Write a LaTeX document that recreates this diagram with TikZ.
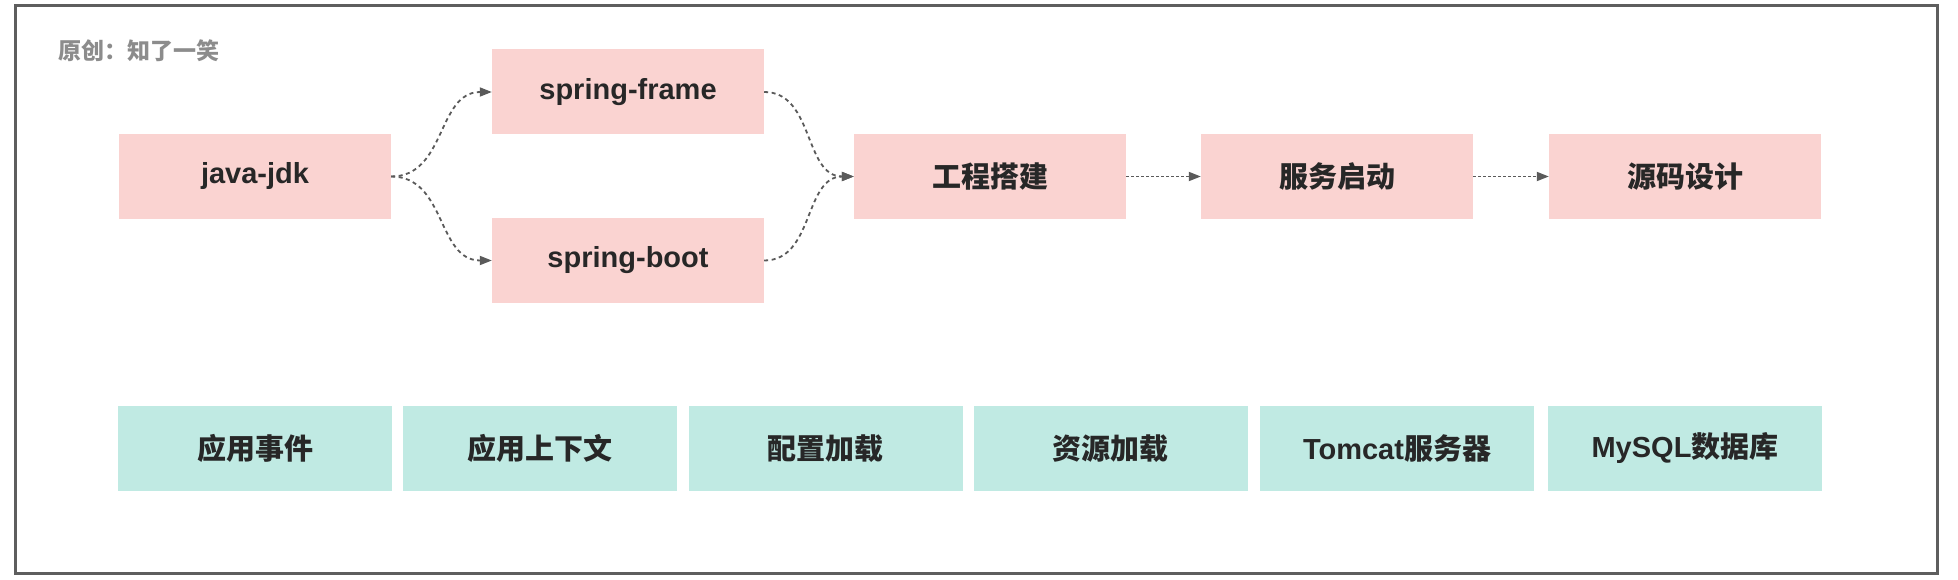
\documentclass[tikz,border=0pt]{standalone}
\usepackage{fontspec}
\setmainfont{Liberation Sans}
\newfontfamily\cjk{Noto Sans CJK SC}
\usetikzlibrary{arrows.meta}
\definecolor{pinkfill}{HTML}{FAD3D1}
\definecolor{tealfill}{HTML}{C0EAE3}
\definecolor{txtcol}{HTML}{272727}
\definecolor{arrcol}{HTML}{5A5A5A}
\definecolor{framecol}{HTML}{5E5E5E}
\definecolor{notecol}{HTML}{8C8C8C}
\newcommand\zh[1]{{\cjk\bfseries #1}}
\tikzset{
  box/.style={minimum width=272pt, minimum height=85pt, inner sep=0pt, text=txtcol,
    font=\fontsize{29}{33}\selectfont\bfseries},
  pinkbox/.style={box, fill=pinkfill},
  tealbox/.style={box, fill=tealfill, minimum width=274pt},
  link/.style={draw=arrcol, line width=1.8pt, dash pattern=on 4pt off 3.5pt,
    -{Triangle[length=12pt,width=9pt]}},
}
\begin{document}
\begin{tikzpicture}[x=1pt,y=-1pt]
\useasboundingbox[fill=white] (0,0) rectangle (1958,580);
\draw[framecol, line width=3pt] (15.5,5.5) rectangle (1937,573.5);
\node[anchor=west, text=notecol, inner sep=0pt, font=\fontsize{23}{27}\selectfont] (credit) at (58,51) {\zh{原创：知了一笑}};
% top row
\node[pinkbox] (jdk) at (255,176.5) {java-jdk};
\node[pinkbox] (sframe) at (628,92) {spring-frame};
\node[pinkbox] (sboot) at (628,260.5) {spring-boot};
\node[pinkbox] (build) at (990,176.5) {\zh{工程搭建}};
\node[pinkbox] (start) at (1337,176.5) {\zh{服务启动}};
\node[pinkbox] (src) at (1685,176.5) {\zh{源码设计}};
% bottom row
\node[tealbox] (ev) at (255,448.5) {\zh{应用事件}};
\node[tealbox] (ctx) at (540,448.5) {\zh{应用上下文}};
\node[tealbox] (cfg) at (825.5,448.5) {\zh{配置加载}};
\node[tealbox] (res) at (1110.5,448.5) {\zh{资源加载}};
\node[tealbox] (tom) at (1397,448.5) {Tomcat\zh{服务器}};
\node[tealbox] (db) at (1685,448.5) {MySQL\zh{数据库}};
% connectors
\draw[link] (jdk.east) .. controls +(55,0) and +(-55,0) .. (sframe.west);
\draw[link] (jdk.east) .. controls +(55,0) and +(-55,0) .. (sboot.west);
\draw[link] (sframe.east) .. controls +(50,0) and +(-50,0) .. (build.west);
\draw[link] (sboot.east) .. controls +(50,0) and +(-50,0) .. (build.west);
\draw[link, dash pattern=on 3pt off 2pt] (build.east) -- (start.west);
\draw[link, dash pattern=on 3pt off 2pt] (start.east) -- (src.west);
\end{tikzpicture}
\end{document}
